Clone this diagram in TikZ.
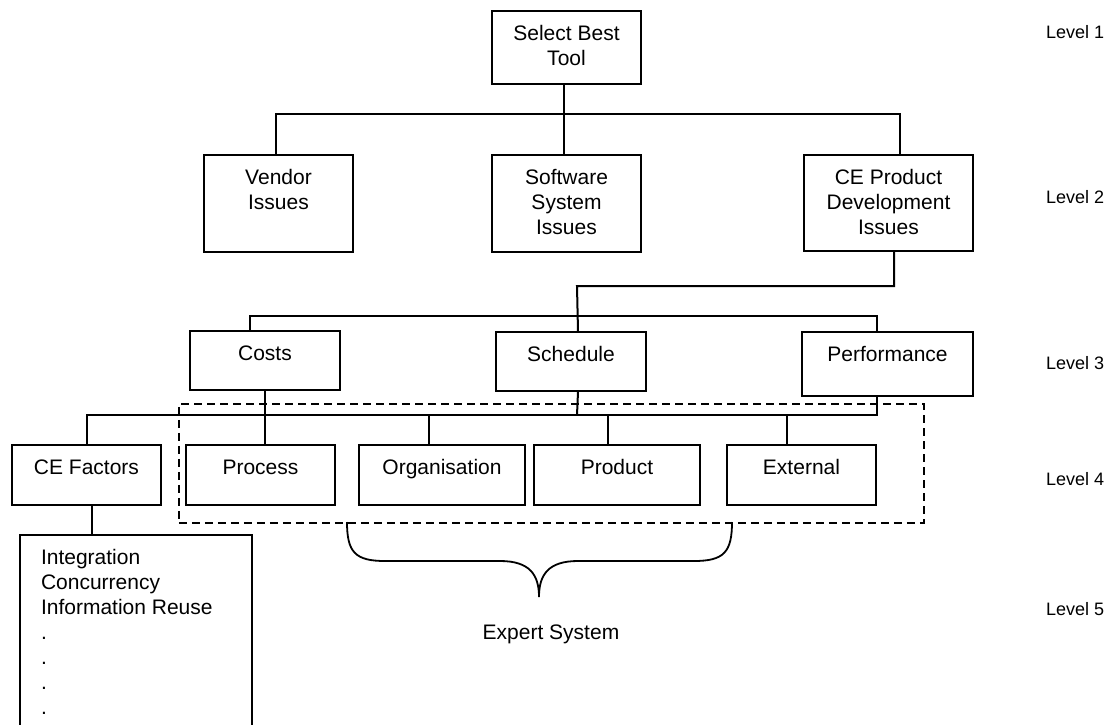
\documentclass[tikz,border=0pt]{standalone}
\usepackage{fontspec}
\setmainfont{Liberation Sans}
\newcommand{\boxtext}[3]{\parbox[t][\dimexpr#2pt-24pt\relax][t]{#1pt}{\centering\strut#3}}

\begin{document}
\begin{tikzpicture}[x=1pt, y=-1pt, line width=2pt,
        box/.style={draw, anchor=north west, inner xsep=0pt, inner ysep=12pt, font=\fontsize{21}{25}\selectfont},
        frame/.style={draw, dashed, dash pattern=on 8pt off 5pt, line width=1.8pt, anchor=north west, inner sep=0pt},
        txt/.style={font=\fontsize{21}{25}\selectfont},
        lvl/.style={anchor=base west, inner sep=0pt, font=\fontsize{18}{22}\selectfont}]
    \useasboundingbox (0,0) rectangle (1120,724);
    \clip (0,0) rectangle (1120,724);

    \node[box] (sel_tool) at (491, 10) {\boxtext{149}{73}{Select Best\\Tool}};

    \node[box] (vendor)   at (203, 154) {\boxtext{149}{97}{Vendor\\Issues}};
    \node[box] (soft_sys) at (491, 154) {\boxtext{149}{97}{Software\\System\\Issues}};
    \node[box] (ce_prod)  at (803, 154) {\boxtext{169}{96}{CE Product\\Development\\Issues}};

    \node[box] (costs) at (189, 330) {\boxtext{150}{59}{Costs}};
    \node[box] (sched) at (495, 331) {\boxtext{150}{59}{Schedule}};
    \node[box] (perf)  at (801, 331) {\boxtext{171}{64}{Performance}};

    \node[box] (ce_fact)  at (11, 444)  {\boxtext{149}{60}{CE Factors}};
    \node[box] (process)  at (185, 444) {\boxtext{149}{60}{Process}};
    \node[box] (organ)    at (358, 444) {\boxtext{166}{60}{Organisation}};
    \node[box] (product)  at (533, 444) {\boxtext{166}{60}{Product}};
    \node[box] (external) at (726, 444) {\boxtext{149}{60}{External}};

    \node[box, inner xsep=21pt] (factor_list) at (19, 534)
        {\parbox[t][186pt][t]{190pt}{\raggedright\strut Integration\\Concurrency\\Information Reuse\\.\\.\\.\\.}};

    \node[frame, minimum width=745, minimum height=119] (es_frame) at (178, 403) {};
    \node[txt, anchor=base] (es_label) at (551, 639) {Expert System};

    \foreach \i/\y in {1/38.5, 2/203.5, 3/369.5, 4/485.5, 5/615.5}
        \node[lvl] (level\i) at (1045, \y) {Level \i};

    \coordinate (bar_a) at (563, 114);
    \coordinate (bar_b) at (577, 286);
    \coordinate (bar_c) at (577, 316);
    \coordinate (bar_d) at (577, 415);

    \draw ([xshift=-2.5]sel_tool.south) -- ([xshift=-2.5]soft_sys.north);
    \draw ([xshift=-2.5]vendor.north) |- (bar_a) -| ([xshift=11.5]ce_prod.north);

    \draw ([xshift=5.5]ce_prod.south) |- (bar_b) -- ([xshift=7]sched.north);
    \draw ([xshift=-15]costs.north) |- (bar_c) -| ([xshift=-10.5]perf.north);

    \draw (costs.south) -- ([xshift=4.5]process.north);
    \draw ([xshift=7]sched.south) -- (bar_d);
    \draw ([xshift=-10.5]perf.south) |- ([xshift=0.5]ce_fact.north |- bar_d) -- ([xshift=0.5]ce_fact.north);
    \foreach \n/\s in {organ/-13, product/-9, external/-14.5}
        \draw ([xshift=\s]\n.north) -- ([xshift=\s]\n.north |- bar_d);

    \draw ([xshift=5.5]ce_fact.south) -- ([xshift=-44]factor_list.north);

    \draw[line width=1.8pt] (347, 522) .. controls (347, 552) and (355, 561) .. (385, 561) -- (500, 561)
        .. controls (530, 561) and (539, 575) .. (539, 597)
        .. controls (539, 575) and (548, 561) .. (578, 561) -- (694, 561)
        .. controls (724, 561) and (732, 552) .. (732, 522);
\end{tikzpicture}
\end{document}
